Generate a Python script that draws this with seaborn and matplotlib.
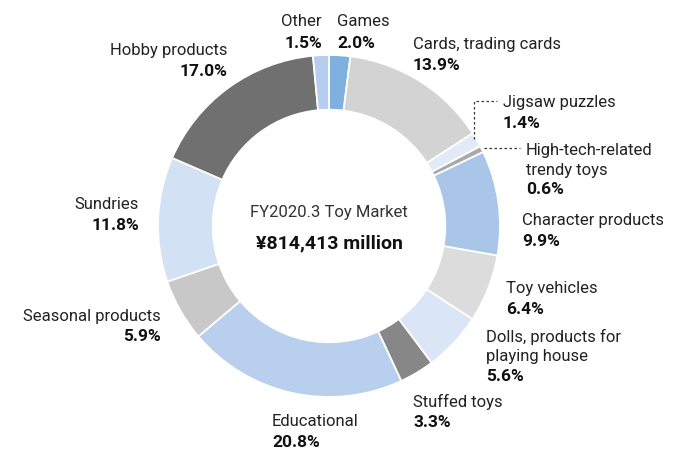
import matplotlib
matplotlib.use("Agg")
import matplotlib.pyplot as plt
import seaborn as sns

categories = ["Games", "Cards, trading cards", "Jigsaw puzzles", "High-tech-related\ntrendy toys",
              "Character products", "Toy vehicles", "Dolls, products for\nplaying house", "Stuffed toys",
              "Educational", "Seasonal products", "Sundries", "Hobby products", "Other"]
shares = [2.0, 13.9, 1.4, 0.6, 9.9, 6.4, 5.6, 3.3, 20.8, 5.9, 11.8, 17.0, 1.5]
pct_labels = ["2.0%", "13.9%", "1.4%", "0.6%", "9.9%", "6.4%", "5.6%", "3.3%", "20.8%", "5.9%", "11.8%", "17.0%", "1.5%"]
colors = ["#7eb0e0", "#d3d3d3", "#e1eaf6", "#a9a9a9", "#a9c6e8", "#dcdcdc", "#dae6f5", "#878787",
          "#b9cfee", "#c8c8c8", "#d2e1f3", "#707070", "#b5cdee"]
center_title = "FY2020.3 Toy Market"
center_value = "¥814,413 million"

sns.set_theme(style="white")
plt.rcParams['font.family'] = ['Roboto', 'DejaVu Sans']

W, H = 675, 452
fig = plt.figure(figsize=(6.75, 4.52), dpi=100)
ax = fig.add_axes([0, 0, 1, 1])

cx, cy, R = 329, H - 227, 171
ax.pie(shares, colors=colors, startangle=90, counterclock=False, center=(cx, cy), radius=R,
       wedgeprops=dict(width=R * 0.32, edgecolor="white", linewidth=1.3), frame=True)
ax.set_xlim(0, W)
ax.set_ylim(0, H)
ax.set_aspect("equal")
ax.axis("off")

def Y(py):
    return H - py

fs = 12
fsp = 12.5
txtc = "#222222"
pos = {
    0: (337, 22, "left"),
    1: (413, 44, "left"),
    2: (503, 102, "left"),
    3: (526, 150, "left"),
    4: (522, 221, "left"),
    5: (506, 289, "left"),
    6: (486, 337, "left"),
    7: (413, 402, "left"),
    8: (272, 422, "left"),
    9: (161, 316, "right"),
    10: (139, 205, "right"),
    11: (227, 50, "right"),
    12: (322, 22, "right"),
}
lh = 20
for i, (x, y, ha) in pos.items():
    lines = categories[i].split("\n")
    for k, line in enumerate(lines):
        ax.text(x, Y(y + lh * k), line, ha=ha, va="center", fontsize=fs, color=txtc)
    ax.text(x, Y(y + lh * len(lines) + (1 if len(lines) == 1 else 0)), pct_labels[i], ha=ha, va="center",
            fontsize=fsp, fontweight="bold", color="#111111")

ax.text(cx, Y(213), center_title, ha="center", va="center", fontsize=12, color="#333333")
ax.text(cx, Y(243), center_value, ha="center", va="center", fontsize=14, fontweight="bold", color="#111111")

# leader lines
ax.plot([474, 474, 497], [Y(140), Y(102), Y(102)], ls=(0, (2, 2)), color="#333333", lw=0.9)
ax.plot([484, 520], [Y(149), Y(149)], ls=(0, (2, 2)), color="#333333", lw=0.9)

fig.savefig("out.png", dpi=100, facecolor="white")
